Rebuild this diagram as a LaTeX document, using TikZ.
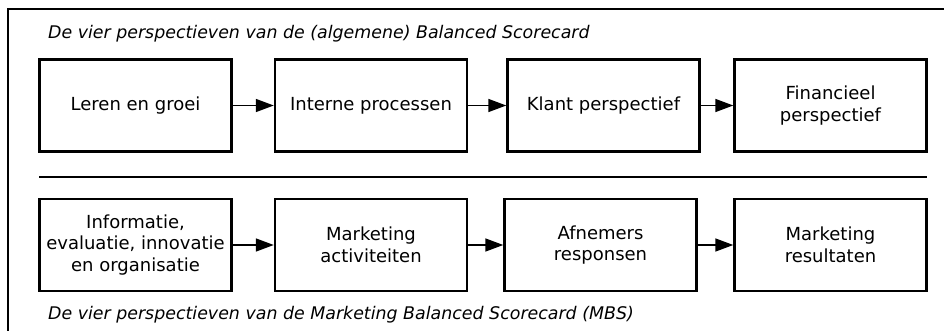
\documentclass[tikz,border=0pt]{standalone}
\usepackage{fontspec}
\setmainfont{DejaVu Sans}
\usetikzlibrary{arrows.meta}
\begin{document}
\begin{tikzpicture}[x=1pt,y=-1pt,
  box/.style={draw, line width=2.4pt, minimum width=192pt, minimum height=92pt,
    align=center, font=\fontsize{18}{21.5}\selectfont, inner sep=0pt},
  conn/.style={line width=1.6pt, -{Triangle[length=18pt,width=13pt]}},
  ttl/.style={anchor=base west, font=\fontsize{17.4}{21}\selectfont\itshape, inner sep=0pt},
  frame/.style={line width=1.6pt},
  sep/.style={line width=2.4pt}]
\useasboundingbox (0,0) rectangle (944,331);
% frame (top and left edges)
\coordinate (f0) at (8,331);
\coordinate (f1) at (8,9);
\coordinate (f2) at (944,9);
\draw[frame] (f0) -- (f1) -- (f2);
% titles
\node[ttl] (t1) at (48,39) {De vier perspectieven van de (algemene) Balanced Scorecard};
\node[ttl] (t2) at (48,319) {De vier perspectieven van de Marketing Balanced Scorecard (MBS)};
% top row
\node[box] (a1) at (135.5,105.5) {Leren en groei};
\node[box] (a2) at (371,105.5) {Interne processen};
\node[box] (a3) at (603.5,105.5) {Klant perspectief};
\node[box] (a4) at (830.5,105.5) {Financieel\\perspectief};
\draw[conn] (a1) -- (a2);
\draw[conn] (a2) -- (a3);
\draw[conn] (a3) -- (a4);
% separator
\coordinate (s1) at (39,177);
\coordinate (s2) at (927,177);
\draw[sep] (s1) -- (s2);
% bottom row
\node[box] (b1) at (135.5,245) {Informatie,\\evaluatie, innovatie\\en organisatie};
\node[box] (b2) at (371,245) {Marketing\\activiteiten};
\node[box] (b3) at (600.5,245) {Afnemers\\responsen};
\node[box] (b4) at (830.5,245) {Marketing\\resultaten};
\draw[conn] (b1) -- (b2);
\draw[conn] (b2) -- (b3);
\draw[conn] (b3) -- (b4);
\end{tikzpicture}
\end{document}
